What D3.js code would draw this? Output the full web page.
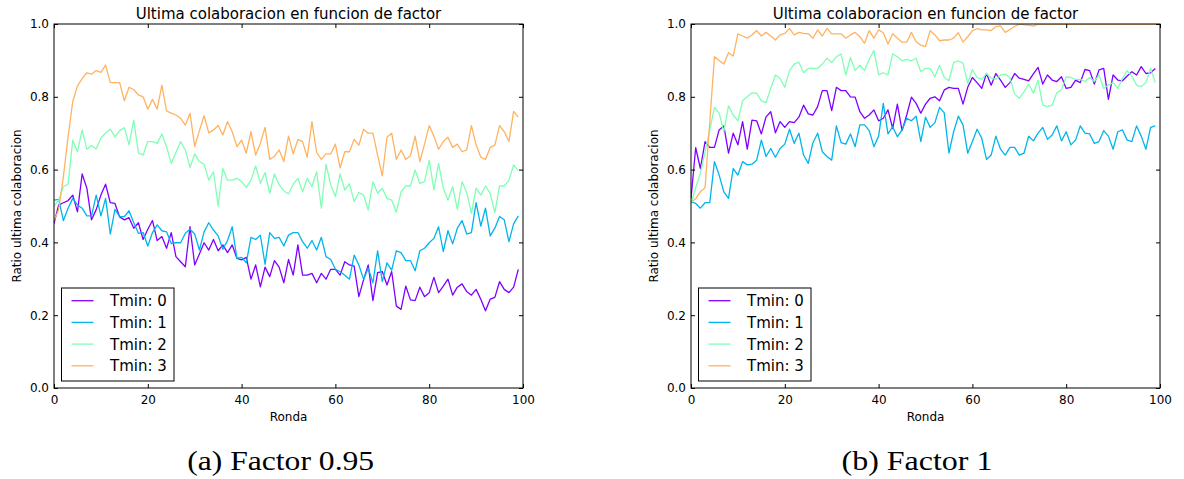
<!DOCTYPE html>
<html><head><meta charset="utf-8">
<script src="https://cdn.jsdelivr.net/npm/d3@7"></script>
<style>body{margin:0;background:#fff}svg{display:block}</style>
</head><body>
<svg id="c" width="1184" height="479"></svg>
<script>
const rounds = d3.range(0, 100);
const seriesNames = ["Tmin: 0", "Tmin: 1", "Tmin: 2", "Tmin: 3"];
const seriesColors = ["#8000ff", "#00b5eb", "#80ffb4", "#ffb360"];
const xTicks = [0, 20, 40, 60, 80, 100];
const yTicks = [0, 0.2, 0.4, 0.6, 0.8, 1.0];
const chartTitle = "Ultima colaboracion en funcion de factor";
const xLabel = "Ronda";
const yLabel = "Ratio ultima colaboracion";
const captions = ["(a) Factor 0.95", "(b) Factor 1"];

// Factor 0.95
const f095_t0 = [0.452,0.503,0.509,0.515,0.530,0.484,0.588,0.549,0.462,0.490,
 0.530,0.560,0.509,0.507,0.470,0.462,0.468,0.439,0.454,0.408,
 0.436,0.460,0.405,0.416,0.384,0.427,0.361,0.347,0.333,0.443,
 0.338,0.368,0.399,0.379,0.408,0.377,0.393,0.372,0.393,0.356,
 0.352,0.359,0.299,0.338,0.278,0.332,0.306,0.350,0.332,0.289,
 0.353,0.310,0.393,0.310,0.310,0.315,0.289,0.315,0.299,0.326,
 0.326,0.310,0.347,0.338,0.335,0.251,0.297,0.338,0.240,0.317,
 0.320,0.283,0.320,0.225,0.216,0.280,0.242,0.240,0.277,0.251,
 0.262,0.304,0.262,0.280,0.299,0.255,0.277,0.286,0.265,0.255,
 0.271,0.244,0.212,0.244,0.249,0.292,0.271,0.262,0.277,0.326];
const f095_t1 = [0.516,0.518,0.460,0.494,0.521,0.503,0.494,0.473,0.473,0.530,
 0.473,0.521,0.423,0.491,0.471,0.471,0.487,0.454,0.425,0.427,
 0.390,0.427,0.448,0.432,0.429,0.397,0.399,0.399,0.425,0.436,
 0.423,0.379,0.429,0.454,0.434,0.418,0.381,0.405,0.443,0.356,
 0.359,0.344,0.414,0.408,0.420,0.340,0.427,0.411,0.414,0.390,
 0.420,0.427,0.427,0.402,0.384,0.405,0.379,0.414,0.361,0.353,
 0.326,0.320,0.310,0.299,0.365,0.338,0.299,0.329,0.289,0.377,
 0.292,0.344,0.324,0.377,0.372,0.350,0.350,0.322,0.377,0.384,
 0.399,0.411,0.443,0.375,0.432,0.396,0.439,0.460,0.423,0.427,
 0.509,0.445,0.494,0.418,0.439,0.471,0.462,0.402,0.451,0.473];
const f095_t2 = [0.500,0.516,0.553,0.560,0.681,0.649,0.709,0.656,0.666,0.657,
 0.686,0.701,0.711,0.690,0.707,0.715,0.668,0.736,0.645,0.640,
 0.677,0.677,0.672,0.698,0.663,0.617,0.647,0.677,0.654,0.606,
 0.643,0.622,0.615,0.571,0.594,0.500,0.603,0.571,0.571,0.576,
 0.567,0.551,0.571,0.610,0.562,0.592,0.535,0.588,0.558,0.542,
 0.533,0.560,0.576,0.539,0.576,0.553,0.594,0.494,0.615,0.558,
 0.526,0.588,0.544,0.561,0.512,0.537,0.530,0.489,0.567,0.535,
 0.549,0.521,0.516,0.483,0.539,0.555,0.555,0.599,0.562,0.567,
 0.626,0.544,0.617,0.549,0.516,0.553,0.491,0.567,0.537,0.480,
 0.549,0.530,0.555,0.535,0.482,0.555,0.555,0.571,0.613,0.597];
const f095_t3 = [0.460,0.490,0.580,0.690,0.787,0.830,0.850,0.866,0.862,0.872,
 0.867,0.887,0.839,0.839,0.839,0.789,0.826,0.820,0.805,0.800,
 0.766,0.793,0.766,0.832,0.761,0.755,0.750,0.741,0.722,0.755,
 0.663,0.707,0.748,0.701,0.709,0.721,0.695,0.732,0.704,0.663,
 0.681,0.645,0.704,0.640,0.672,0.716,0.628,0.636,0.654,0.622,
 0.692,0.643,0.683,0.677,0.634,0.732,0.647,0.628,0.643,0.643,
 0.670,0.605,0.649,0.649,0.683,0.667,0.711,0.700,0.700,0.640,
 0.583,0.689,0.700,0.628,0.654,0.628,0.638,0.692,0.622,0.670,
 0.721,0.692,0.656,0.677,0.689,0.661,0.670,0.649,0.654,0.721,
 0.668,0.634,0.628,0.661,0.667,0.721,0.704,0.677,0.760,0.744];

// Factor 1
const f1_t0 = [0.520,0.660,0.603,0.677,0.661,0.661,0.709,0.720,0.645,0.700,
 0.668,0.732,0.656,0.736,0.734,0.698,0.745,0.759,0.701,0.732,
 0.716,0.732,0.729,0.744,0.777,0.753,0.750,0.773,0.817,0.817,
 0.762,0.826,0.817,0.817,0.800,0.799,0.759,0.741,0.750,0.764,
 0.734,0.741,0.764,0.713,0.780,0.707,0.750,0.799,0.782,0.755,
 0.780,0.796,0.800,0.789,0.819,0.826,0.823,0.823,0.780,0.826,
 0.853,0.839,0.823,0.864,0.832,0.864,0.846,0.826,0.839,0.864,
 0.851,0.848,0.844,0.863,0.881,0.835,0.860,0.846,0.842,0.855,
 0.823,0.826,0.846,0.839,0.875,0.872,0.835,0.874,0.878,0.793,
 0.860,0.846,0.844,0.857,0.869,0.860,0.883,0.864,0.866,0.878];
const f1_t1 = [0.512,0.507,0.494,0.509,0.509,0.622,0.585,0.539,0.521,0.603,
 0.585,0.622,0.613,0.615,0.626,0.681,0.636,0.658,0.634,0.658,
 0.670,0.711,0.672,0.700,0.640,0.617,0.674,0.700,0.649,0.636,
 0.626,0.720,0.674,0.670,0.698,0.663,0.723,0.723,0.707,0.663,
 0.692,0.782,0.698,0.718,0.690,0.709,0.741,0.734,0.747,0.677,
 0.744,0.716,0.729,0.771,0.756,0.645,0.704,0.747,0.723,0.645,
 0.677,0.711,0.686,0.628,0.640,0.692,0.656,0.640,0.661,0.661,
 0.640,0.645,0.692,0.679,0.700,0.716,0.683,0.695,0.720,0.679,
 0.704,0.668,0.681,0.720,0.700,0.698,0.672,0.677,0.707,0.692,
 0.656,0.704,0.709,0.681,0.677,0.720,0.692,0.656,0.716,0.720];
const f1_t2 = [0.507,0.550,0.590,0.649,0.709,0.771,0.755,0.704,0.775,0.750,
 0.734,0.789,0.800,0.811,0.810,0.789,0.784,0.823,0.860,0.851,
 0.826,0.872,0.890,0.895,0.866,0.878,0.878,0.878,0.890,0.906,
 0.894,0.910,0.918,0.860,0.908,0.872,0.887,0.872,0.903,0.927,
 0.860,0.866,0.860,0.918,0.910,0.899,0.903,0.899,0.906,0.869,
 0.878,0.878,0.855,0.887,0.853,0.844,0.894,0.899,0.892,0.837,
 0.875,0.853,0.848,0.864,0.851,0.848,0.860,0.862,0.853,0.808,
 0.796,0.814,0.835,0.810,0.846,0.777,0.773,0.777,0.811,0.819,
 0.855,0.853,0.848,0.848,0.842,0.853,0.842,0.860,0.823,0.832,
 0.839,0.823,0.851,0.872,0.857,0.832,0.828,0.839,0.878,0.839];
const f1_t3 = [0.510,0.520,0.539,0.550,0.730,0.910,0.900,0.890,0.921,0.912,
 0.973,0.967,0.961,0.970,0.982,0.967,0.977,0.967,0.956,0.970,
 0.974,0.988,0.970,0.977,0.974,0.973,0.961,0.984,0.967,0.988,
 0.973,0.973,0.973,0.961,0.970,0.977,0.965,0.947,0.982,0.961,
 0.984,0.976,0.945,0.973,0.961,0.950,0.950,0.977,0.951,0.942,
 0.938,0.982,0.970,0.954,0.956,0.956,0.961,0.976,0.950,0.965,
 0.982,0.987,0.984,0.984,0.982,0.993,0.995,0.977,0.985,0.993,
 1.000,0.998,0.997,0.994,1.000,1.000,1.000,1.000,1.000,1.000,
 1.000,1.000,1.000,1.000,1.000,1.000,1.000,1.000,1.000,1.000,
 1.000,1.000,1.000,1.000,1.000,1.000,1.000,1.000,1.000,1.000];

const panels = [
  {x0: 54, x1: 523, series: [f095_t0, f095_t1, f095_t2, f095_t3], caption: captions[0], capX: 280.7, capLen: 187},
  {x0: 691, x1: 1160, series: [f1_t0, f1_t1, f1_t2, f1_t3], caption: captions[1], capX: 917, capLen: 151}
];
const yTop = 24, yBot = 388;
const svg = d3.select("#c");
svg.append("rect").attr("width", 1184).attr("height", 479).attr("fill", "#fff");
const font = "'DejaVu Sans', sans-serif";

panels.forEach((p, pi) => {
  const x = d3.scaleLinear().domain([0, 100]).range([p.x0, p.x1]);
  const y = d3.scaleLinear().domain([0, 1]).range([yBot, yTop]);
  const g = svg.append("g");
  const cid = "clip" + pi;
  svg.append("clipPath").attr("id", cid).append("rect")
    .attr("x", p.x0).attr("y", yTop).attr("width", p.x1 - p.x0).attr("height", yBot - yTop);

  const line = d3.line().x((d, i) => x(rounds[i])).y(d => y(d));
  const lg = g.append("g").attr("clip-path", `url(#${cid})`);
  p.series.forEach((s, si) => {
    lg.append("path").datum(s).attr("d", line).attr("fill", "none")
      .attr("stroke", seriesColors[si]).attr("stroke-width", 1.3).attr("stroke-linejoin", "round");
  });

  const styleAxis = (ax, showLabels) => {
    ax.select(".domain").remove();
    ax.selectAll(".tick line").attr("stroke", "#000").attr("stroke-width", 1);
    ax.selectAll(".tick text").attr("fill", "#000").attr("font-family", font).attr("font-size", 12);
    if (!showLabels) ax.selectAll(".tick text").remove();
  };
  styleAxis(g.append("g").attr("transform", `translate(0,${yBot})`)
    .call(d3.axisBottom(x).tickValues(xTicks).tickSize(-4).tickPadding(7.5).tickFormat(d3.format("d"))), true);
  styleAxis(g.append("g").attr("transform", `translate(0,${yTop})`)
    .call(d3.axisTop(x).tickValues(xTicks).tickSize(-4)), false);
  styleAxis(g.append("g").attr("transform", `translate(${p.x0},0)`)
    .call(d3.axisLeft(y).tickValues(yTicks).tickSize(-4).tickPadding(5).tickFormat(d3.format(".1f"))), true);
  styleAxis(g.append("g").attr("transform", `translate(${p.x1},0)`)
    .call(d3.axisRight(y).tickValues(yTicks).tickSize(-4)), false);

  g.append("rect").attr("x", p.x0).attr("y", yTop).attr("width", p.x1 - p.x0).attr("height", yBot - yTop)
    .attr("fill", "none").attr("stroke", "#000").attr("stroke-width", 1);

  const cx = (p.x0 + p.x1) / 2;
  g.append("text").attr("x", cx).attr("y", 19).attr("text-anchor", "middle")
    .attr("font-family", font).attr("font-size", 15).attr("fill", "#000").text(chartTitle);
  g.append("text").attr("x", cx).attr("y", 421).attr("text-anchor", "middle")
    .attr("font-family", font).attr("font-size", 12).attr("fill", "#000").text(xLabel);
  g.append("text").attr("transform", `translate(${p.x0 - 33},${(yTop + yBot) / 2}) rotate(-90)`)
    .attr("text-anchor", "middle").attr("font-family", font).attr("font-size", 12).attr("fill", "#000").text(yLabel);

  // legend
  const lx = p.x0 + 7.5, ly = 288;
  const leg = g.append("g");
  leg.append("rect").attr("x", lx).attr("y", ly).attr("width", 112.5).attr("height", 93)
    .attr("fill", "#fff").attr("stroke", "#000").attr("stroke-width", 1);
  seriesNames.forEach((n, si) => {
    const ry = ly + 12.7 + si * 21.7;
    leg.append("line").attr("x1", lx + 10).attr("x2", lx + 32).attr("y1", ry).attr("y2", ry)
      .attr("stroke", seriesColors[si]).attr("stroke-width", 1.3);
    leg.append("text").attr("x", lx + 48.5).attr("y", ry + 5.4).attr("font-family", font)
      .attr("font-size", 15).attr("fill", "#000").text(n);
  });

  svg.append("text").attr("x", p.capX).attr("y", 470).attr("text-anchor", "middle")
    .attr("font-family", "'Liberation Serif', serif").attr("font-size", 27).attr("fill", "#000")
    .attr("textLength", p.capLen).attr("lengthAdjust", "spacingAndGlyphs").text(p.caption);
});
</script>
</body></html>
